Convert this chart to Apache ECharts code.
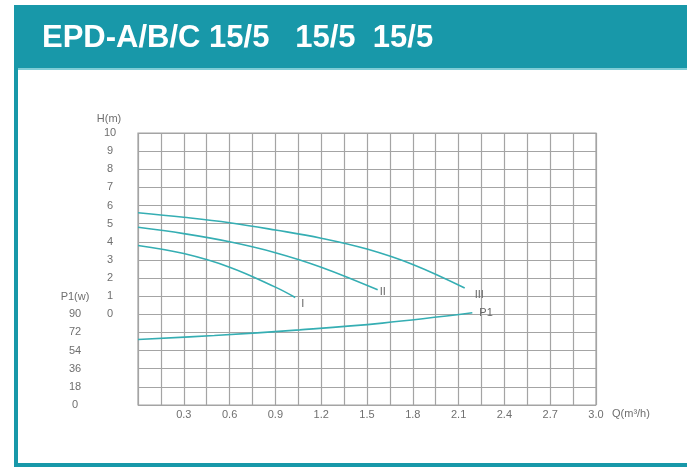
<!DOCTYPE html>
<html>
<head>
<meta charset="utf-8">
<script src="https://cdn.jsdelivr.net/npm/echarts@6/dist/echarts.min.js"></script>
<style>html,body{margin:0;padding:0;background:#fff;}#c{width:687px;height:470px;}</style>
</head>
<body>
<div id="c"></div>
<script>
// Flow Q (m³/h) and head H (m) for speeds I, II, III; P1 power (W)
var qI   = [0, 0.3, 0.6, 0.9, 1.03];
var hI   = [3.8, 3.35, 2.6, 1.5, 0.93];
var qII  = [0, 0.3, 0.6, 0.9, 1.2, 1.57];
var hII  = [4.8, 4.45, 4.0, 3.4, 2.6, 1.35];
var qIII = [0, 0.3, 0.6, 0.9, 1.2, 1.5, 1.8, 2.14];
var hIII = [5.6, 5.35, 5.05, 4.65, 4.2, 3.6, 2.75, 1.45];
var qP1  = [0, 0.5, 1.06, 1.6, 2.19];
var pP1  = [65, 69, 74.6, 81.3, 91.5];
var xTicks = ['0.3','0.6','0.9','1.2','1.5','1.8','2.1','2.4','2.7','3.0'];
var hTicks = ['0','1','2','3','4','5','6','7','8','9','10'];
var pTicks = ['0','18','36','54','72','90'];

function pairs(xs, ys){ return xs.map(function(x,i){ return [x, ys[i]]; }); }

var teal = '#35AEB3';
var gridCol = '#a4a4a4';
var txt = '#6f6f6f';
var font = 'Liberation Sans, Arial, sans-serif';

function curve(name, xs, ys, yIdx, off){
  return {
    name: name, type: 'line', yAxisIndex: yIdx, smooth: 0.4, symbol: 'none',
    data: pairs(xs, ys),
    lineStyle: {color: teal, width: 1.6},
    endLabel: {show: true, formatter: name, color: '#666', fontSize: 11, fontFamily: font, distance: 2, offset: off},
    z: 5
  };
}

var chart = echarts.init(document.getElementById('c'), null, {renderer: 'canvas'});
chart.setOption({
  animation: false,
  backgroundColor: '#ffffff',
  grid: {left: 138, right: 91, top: 133, bottom: 65, show: true, borderColor: gridCol, borderWidth: 1.2, backgroundColor: 'transparent'},
  xAxis: {
    type: 'value', min: 0, max: 3, interval: 0.15,
    axisLine: {show: false}, axisTick: {show: false},
    splitLine: {show: true, lineStyle: {color: gridCol, width: 1.2}},
    axisLabel: {
      color: txt, fontSize: 11, fontFamily: font, margin: 4,
      formatter: function(v){
        var k = Math.round(v / 0.15);
        if (k === 0 || k % 2 !== 0) return '';
        return xTicks[k/2 - 1];
      }
    }
  },
  yAxis: [
    {
      type: 'value', min: -5, max: 10, interval: 1, position: 'left',
      axisLine: {show: false}, axisTick: {show: false},
      splitLine: {show: true, lineStyle: {color: gridCol, width: 1.2}},
      axisLabel: {
        color: txt, fontSize: 11, fontFamily: font, margin: 28, align: 'center',
        formatter: function(v){ var k = Math.round(v); return k >= 0 ? hTicks[k] : ''; }
      }
    },
    {
      type: 'value', min: 0, max: 270, interval: 18, position: 'left',
      axisLine: {show: false}, axisTick: {show: false}, splitLine: {show: false},
      axisLabel: {
        color: txt, fontSize: 11, fontFamily: font, margin: 63, align: 'center',
        formatter: function(v){ var k = Math.round(v / 18); return k <= 5 ? pTicks[k] : ''; }
      }
    }
  ],
  series: [
    curve('I', qI, hI, 0, [4, 6]),
    curve('II', qII, hII, 0, [0, 2]),
    curve('III', qIII, hIII, 0, [8, 7]),
    curve('P1', qP1, pP1, 1, [5, 0])
  ],
  graphic: [
    {type: 'rect', shape: {x: 14, y: 5, width: 673, height: 63}, style: {fill: '#1898A9'}},
    {type: 'rect', shape: {x: 14, y: 68, width: 673, height: 2}, style: {fill: '#7fcdd6'}},
    {type: 'rect', shape: {x: 14, y: 68, width: 4, height: 399}, style: {fill: '#1898A9'}},
    {type: 'rect', shape: {x: 14, y: 463, width: 673, height: 4}, style: {fill: '#1898A9'}},
    {type: 'text', x: 42, y: 38, style: {text: 'EPD-A/B/C 15/5   15/5  15/5', fill: '#ffffff', font: 'bold 31px Liberation Sans, Arial, sans-serif', verticalAlign: 'middle'}},
    {type: 'text', x: 109, y: 119, style: {text: 'H(m)', fill: txt, font: '11px Liberation Sans, Arial, sans-serif', align: 'center', verticalAlign: 'middle'}},
    {type: 'text', x: 75, y: 297, style: {text: 'P1(w)', fill: txt, font: '11px Liberation Sans, Arial, sans-serif', align: 'center', verticalAlign: 'middle'}},
    {type: 'text', x: 612, y: 414, style: {text: 'Q(m³/h)', fill: txt, font: '11px Liberation Sans, Arial, sans-serif', align: 'left', verticalAlign: 'middle'}}
  ]
});
</script>
</body>
</html>
